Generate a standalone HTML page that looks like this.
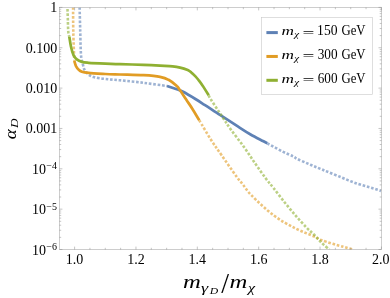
<!DOCTYPE html>
<html><head><meta charset="utf-8"><title>plot</title>
<style>.ls{font-family:"Liberation Serif",serif}svg{will-change:transform}html,body{margin:0;padding:0;background:#fff;overflow:hidden}body{width:390px;height:298px;font-family:"Liberation Serif",serif}</style>
</head><body>
<svg width="390" height="298" viewBox="0 0 390 298" style="display:block">
<rect width="390" height="298" fill="#fff"/>
<defs><clipPath id="c"><rect x="59.4" y="7.4" width="322.1" height="242.2"/></clipPath></defs>
<g clip-path="url(#c)" fill="none" stroke-linejoin="round">
<path d="M79.6,7.4C79.7,11.2 80.0,22.1 80.2,30.0C80.4,37.9 80.6,49.4 81.0,55.0C81.4,60.6 82.1,61.2 82.7,63.6C83.3,66.0 83.4,67.7 84.4,69.5C85.4,71.3 87.0,73.2 88.6,74.5C90.1,75.8 90.9,76.2 93.7,77.0C96.5,77.8 101.0,78.5 105.4,79.0C109.8,79.5 113.6,79.7 120.0,80.3C126.4,80.9 135.8,81.8 143.6,82.8C151.4,83.8 163.1,85.5 167.0,86.0" stroke="#5e81b5" stroke-opacity="0.6" stroke-width="2.6" stroke-dasharray="2.6 1.75"/>
<path d="M167.0,86.0C168.6,86.5 174.1,88.3 176.8,89.3C179.5,90.3 180.0,90.2 183.1,91.8C186.2,93.4 191.8,96.8 195.4,99.0C199.1,101.2 200.8,102.4 205.0,105.1C209.2,107.8 214.9,111.7 220.4,115.2C225.9,118.8 232.8,123.2 237.8,126.4C242.8,129.6 246.3,132.0 250.6,134.5C254.9,137.0 260.7,139.8 263.5,141.3C266.3,142.8 266.7,143.0 267.3,143.3" stroke="#5e81b5" stroke-width="2.7"/>
<path d="M267.3,143.3C269.7,144.6 277.6,149.0 281.9,151.2C286.2,153.4 290.8,155.2 293.3,156.5C295.9,157.8 294.6,157.6 297.2,158.9C299.8,160.2 304.8,162.3 308.9,164.1C313.0,165.8 316.9,167.4 321.8,169.4C326.7,171.4 332.3,173.7 338.0,176.0C343.7,178.3 349.9,181.1 355.9,183.2C361.9,185.3 369.6,187.3 373.8,188.6C378.0,189.9 379.8,190.5 381.0,190.9" stroke="#5e81b5" stroke-opacity="0.6" stroke-width="2.6" stroke-dasharray="2.6 1.75"/>
<path d="M73.1,7.4C73.1,11.5 73.1,23.1 73.3,32.0C73.5,40.9 74.1,56.0 74.3,60.8" stroke="#e19c24" stroke-opacity="0.6" stroke-width="2.6" stroke-dasharray="2.6 1.75"/>
<path d="M74.3,60.8C74.6,61.7 75.3,64.6 76.0,66.1C76.7,67.5 77.5,68.6 78.5,69.5C79.5,70.4 80.2,71.1 81.9,71.7C83.6,72.3 84.7,72.5 88.6,72.9C92.5,73.3 100.2,73.7 105.4,74.0C110.6,74.3 113.6,74.3 120.0,74.5C126.4,74.7 136.9,74.8 143.6,75.2C150.3,75.6 155.8,76.0 160.0,76.8C164.2,77.6 165.8,78.2 168.6,79.8C171.4,81.3 174.9,84.3 176.8,86.1C178.7,87.8 178.4,88.1 180.0,90.3C181.6,92.5 184.1,96.4 186.2,99.5C188.2,102.6 190.1,105.2 192.3,108.7C194.5,112.2 198.1,118.4 199.3,120.3" stroke="#e19c24" stroke-width="2.7"/>
<path d="M199.3,120.3C201.3,123.6 207.3,134.1 211.1,140.0C214.8,145.9 217.6,149.4 221.8,155.5C226.0,161.6 233.1,171.8 236.5,176.5C239.9,181.2 239.9,180.8 242.5,184.0C245.1,187.2 246.6,190.5 251.8,195.7C257.0,200.9 266.3,209.9 273.6,215.3C280.9,220.8 288.6,224.9 295.4,228.4C302.2,231.9 310.0,234.5 314.4,236.5C318.8,238.5 316.9,238.6 321.8,240.3C326.7,242.0 338.3,245.4 343.6,246.9C348.9,248.4 351.8,249.2 353.4,249.6" stroke="#e19c24" stroke-opacity="0.6" stroke-width="2.6" stroke-dasharray="2.6 1.75"/>
<path d="M67.5,9.0C67.6,11.2 67.8,18.2 67.9,22.0C68.0,25.8 68.1,29.6 68.3,32.0C68.5,34.5 69.1,35.9 69.3,36.7" stroke="#8fb032" stroke-opacity="0.6" stroke-width="2.6" stroke-dasharray="2.6 1.75"/>
<path d="M69.3,36.7C69.6,38.4 70.3,43.7 71.0,46.8C71.7,49.9 72.5,53.1 73.5,55.2C74.5,57.3 75.4,58.3 76.8,59.4C78.2,60.5 79.9,61.3 81.9,61.9C83.9,62.5 84.7,62.5 88.6,62.8C92.5,63.1 100.2,63.4 105.4,63.6C110.6,63.8 113.6,64.0 120.0,64.2C126.4,64.4 136.9,64.6 143.6,64.8C150.3,65.0 155.2,65.3 160.0,65.6C164.8,65.9 169.2,66.1 172.6,66.4C175.9,66.7 177.6,67.0 180.1,67.6C182.6,68.2 185.8,69.3 187.7,70.1C189.6,70.9 190.2,71.6 191.4,72.6C192.7,73.6 193.9,74.8 195.2,76.1C196.5,77.4 197.7,79.0 199.0,80.6C200.3,82.2 201.2,83.5 202.8,85.9C204.4,88.4 207.7,93.7 208.7,95.3" stroke="#8fb032" stroke-width="2.7"/>
<path d="M208.7,95.4C209.1,96.2 208.9,96.4 211.2,100.0C213.5,103.6 219.2,112.0 222.4,116.9C225.6,121.8 227.1,124.3 230.6,129.2C234.1,134.1 239.5,140.8 243.6,146.5C247.7,152.2 251.3,157.9 255.0,163.2C258.7,168.5 262.7,174.3 265.8,178.5C268.9,182.7 270.5,184.2 273.6,188.1C276.7,192.0 280.9,197.7 284.5,202.2C288.1,206.7 291.8,211.1 295.4,215.3C299.0,219.5 303.1,224.0 306.3,227.3C309.5,230.6 311.8,232.4 314.4,235.0C317.0,237.6 319.3,240.6 321.8,243.0C324.3,245.4 328.1,248.5 329.4,249.6" stroke="#8fb032" stroke-opacity="0.6" stroke-width="2.6" stroke-dasharray="2.6 1.75"/>
</g>
<g stroke="#8a8a8a" stroke-width="0.42" fill="none">
<rect x="59.4" y="7.4" width="322.1" height="242.2"/>
<path stroke-width="0.5" d="M74.60,249.6v-3.0M74.60,7.4v3.0M89.94,249.6v-1.8M89.94,7.4v1.8M105.28,249.6v-1.8M105.28,7.4v1.8M120.62,249.6v-1.8M120.62,7.4v1.8M135.96,249.6v-3.0M135.96,7.4v3.0M151.30,249.6v-1.8M151.30,7.4v1.8M166.64,249.6v-1.8M166.64,7.4v1.8M181.98,249.6v-1.8M181.98,7.4v1.8M197.32,249.6v-3.0M197.32,7.4v3.0M212.66,249.6v-1.8M212.66,7.4v1.8M228.00,249.6v-1.8M228.00,7.4v1.8M243.34,249.6v-1.8M243.34,7.4v1.8M258.68,249.6v-3.0M258.68,7.4v3.0M274.02,249.6v-1.8M274.02,7.4v1.8M289.36,249.6v-1.8M289.36,7.4v1.8M304.70,249.6v-1.8M304.70,7.4v1.8M320.04,249.6v-3.0M320.04,7.4v3.0M335.38,249.6v-1.8M335.38,7.4v1.8M350.72,249.6v-1.8M350.72,7.4v1.8M366.06,249.6v-1.8M366.06,7.4v1.8M381.40,249.6v-3.0M381.40,7.4v3.0M59.4,7.40h3M381.5,7.40h-3M59.4,35.60h1.8M381.5,35.60h-1.8M59.4,28.50h1.8M381.5,28.50h-1.8M59.4,23.46h1.8M381.5,23.46h-1.8M59.4,19.55h1.8M381.5,19.55h-1.8M59.4,16.35h1.8M381.5,16.35h-1.8M59.4,13.65h1.8M381.5,13.65h-1.8M59.4,11.31h1.8M381.5,11.31h-1.8M59.4,9.25h1.8M381.5,9.25h-1.8M59.4,47.75h3M381.5,47.75h-3M59.4,75.95h1.8M381.5,75.95h-1.8M59.4,68.85h1.8M381.5,68.85h-1.8M59.4,63.81h1.8M381.5,63.81h-1.8M59.4,59.90h1.8M381.5,59.90h-1.8M59.4,56.70h1.8M381.5,56.70h-1.8M59.4,54.00h1.8M381.5,54.00h-1.8M59.4,51.66h1.8M381.5,51.66h-1.8M59.4,49.60h1.8M381.5,49.60h-1.8M59.4,88.10h3M381.5,88.10h-3M59.4,116.30h1.8M381.5,116.30h-1.8M59.4,109.20h1.8M381.5,109.20h-1.8M59.4,104.16h1.8M381.5,104.16h-1.8M59.4,100.25h1.8M381.5,100.25h-1.8M59.4,97.05h1.8M381.5,97.05h-1.8M59.4,94.35h1.8M381.5,94.35h-1.8M59.4,92.01h1.8M381.5,92.01h-1.8M59.4,89.95h1.8M381.5,89.95h-1.8M59.4,128.45h3M381.5,128.45h-3M59.4,156.65h1.8M381.5,156.65h-1.8M59.4,149.55h1.8M381.5,149.55h-1.8M59.4,144.51h1.8M381.5,144.51h-1.8M59.4,140.60h1.8M381.5,140.60h-1.8M59.4,137.40h1.8M381.5,137.40h-1.8M59.4,134.70h1.8M381.5,134.70h-1.8M59.4,132.36h1.8M381.5,132.36h-1.8M59.4,130.30h1.8M381.5,130.30h-1.8M59.4,168.80h3M381.5,168.80h-3M59.4,197.00h1.8M381.5,197.00h-1.8M59.4,189.90h1.8M381.5,189.90h-1.8M59.4,184.86h1.8M381.5,184.86h-1.8M59.4,180.95h1.8M381.5,180.95h-1.8M59.4,177.75h1.8M381.5,177.75h-1.8M59.4,175.05h1.8M381.5,175.05h-1.8M59.4,172.71h1.8M381.5,172.71h-1.8M59.4,170.65h1.8M381.5,170.65h-1.8M59.4,209.15h3M381.5,209.15h-3M59.4,237.35h1.8M381.5,237.35h-1.8M59.4,230.25h1.8M381.5,230.25h-1.8M59.4,225.21h1.8M381.5,225.21h-1.8M59.4,221.30h1.8M381.5,221.30h-1.8M59.4,218.10h1.8M381.5,218.10h-1.8M59.4,215.40h1.8M381.5,215.40h-1.8M59.4,213.06h1.8M381.5,213.06h-1.8M59.4,211.00h1.8M381.5,211.00h-1.8M59.4,249.50h3M381.5,249.50h-3"/>
</g>
<g class="ls" font-size="14" fill="#000">
<text x="74.6" y="264" text-anchor="middle">1.0</text>
<text x="136.0" y="264" text-anchor="middle">1.2</text>
<text x="197.3" y="264" text-anchor="middle">1.4</text>
<text x="258.7" y="264" text-anchor="middle">1.6</text>
<text x="320.0" y="264" text-anchor="middle">1.8</text>
<text x="380.8" y="264" text-anchor="middle">2.0</text>
<text x="57.3" y="12.1" text-anchor="end">1</text>
<text x="57.3" y="52.5" text-anchor="end">0.100</text>
<text x="57.3" y="92.8" text-anchor="end">0.010</text>
<text x="57.3" y="133.2" text-anchor="end">0.001</text>
<text x="46" y="173.8" text-anchor="end">10</text>
<text x="46.3" y="169.1" font-size="10">−4</text>
<text x="46" y="214.2" text-anchor="end">10</text>
<text x="46.3" y="209.5" font-size="10">−5</text>
<text x="46" y="254.5" text-anchor="end">10</text>
<text x="46.3" y="249.8" font-size="10">−6</text>
</g>
<g class="ls" fill="#000">
<g transform="rotate(-90)">
<text transform="translate(-139.36,15.93) scale(1.053,0.911)" font-size="18" font-style="italic">α</text>
<text transform="translate(-127.95,18.08) scale(1.323,1.066)" font-size="10" font-style="italic">D</text>
</g>
<text transform="translate(183.11,288.10) scale(1.234,0.966)" font-size="20" font-style="italic">m</text>
<text transform="translate(201.07,291.78) scale(1.411,1.019)" font-size="13" font-style="italic">γ</text>
<text transform="translate(209.63,293.79) scale(1.462,0.952)" font-size="8" font-style="italic">D</text>
<text transform="translate(221.20,293.31) scale(1.170,1.246)" font-size="24">/</text>
<text transform="translate(229.41,288.10) scale(1.234,0.966)" font-size="20" font-style="italic">m</text>
<text transform="translate(247.99,292.08) scale(1.238,1.019)" font-size="13" font-style="italic">χ</text>
</g>
<rect x="261.5" y="17.5" width="111" height="77" fill="#fff" stroke="#c8c8c8" stroke-width="0.6"/>
<g class="ls" fill="#000">
<rect x="266.4" y="31.10" width="11.4" height="3" fill="#5e81b5"/>
<text transform="translate(281.48,34.80) scale(1.326,0.947)" font-size="13" font-style="italic">m</text>
<text transform="translate(294.27,36.97) scale(1.213,1.009)" font-size="9" font-style="italic">χ</text>
<text transform="translate(302.55,36.53) scale(1.316,0.825)" font-size="16">=</text>
<text transform="translate(317.10,35.26) scale(1.047,1.072)" font-size="13">150</text>
<text transform="translate(341.48,35.19) scale(0.980,1.068)" font-size="13">GeV</text>
<rect x="266.4" y="54.95" width="11.4" height="3" fill="#e19c24"/>
<text transform="translate(281.48,58.65) scale(1.326,0.947)" font-size="13" font-style="italic">m</text>
<text transform="translate(294.27,60.82) scale(1.213,1.009)" font-size="9" font-style="italic">χ</text>
<text transform="translate(302.55,60.38) scale(1.316,0.825)" font-size="16">=</text>
<text transform="translate(317.67,59.11) scale(1.017,1.072)" font-size="13">300</text>
<text transform="translate(341.48,59.04) scale(0.980,1.068)" font-size="13">GeV</text>
<rect x="266.4" y="78.80" width="11.4" height="3" fill="#8fb032"/>
<text transform="translate(281.48,82.50) scale(1.326,0.947)" font-size="13" font-style="italic">m</text>
<text transform="translate(294.27,84.67) scale(1.213,1.009)" font-size="9" font-style="italic">χ</text>
<text transform="translate(302.55,84.23) scale(1.316,0.825)" font-size="16">=</text>
<text transform="translate(317.73,82.96) scale(1.014,1.072)" font-size="13">600</text>
<text transform="translate(341.48,82.89) scale(0.980,1.068)" font-size="13">GeV</text>
</g>
</svg>
</body></html>
